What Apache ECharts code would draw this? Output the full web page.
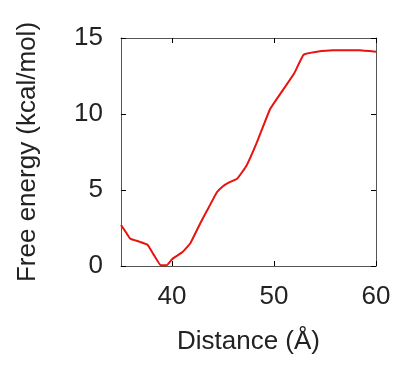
<!DOCTYPE html>
<html>
<head>
<meta charset="utf-8">
<script src="https://cdn.jsdelivr.net/npm/echarts@6/dist/echarts.min.js"></script>
<style>html,body{margin:0;padding:0;background:#fff;}#c{width:402px;height:365px;}</style>
</head>
<body>
<div id="c"></div>
<script>
const distance = [35, 35.5, 35.9, 36.8, 37.6, 38.2, 38.9, 39.5, 40.0, 41.0, 41.8, 42.8, 43.6, 44.4, 45.0, 45.6, 46.4, 47.3, 48.3, 49.6, 50.9, 52.0, 52.9, 54.2, 55.8, 58.4, 60];
const freeEnergy = [2.7, 2.2, 1.8, 1.6, 1.4, 0.75, 0.05, 0.05, 0.45, 0.9, 1.5, 2.85, 3.85, 4.85, 5.25, 5.5, 5.75, 6.6, 8.1, 10.3, 11.6, 12.7, 13.9, 14.1, 14.2, 14.2, 14.1];
const xTicks = [40, 50, 60];
const yTicks = [0, 5, 10, 15];

const font = 'Liberation Sans';
const axisColor = '#555';
const textColor = '#222';
const chart = echarts.init(document.getElementById('c'), null, {renderer: 'canvas'});
const baseX = {
  type: 'value', min: 35, max: 60,
  axisLine: {show: true, onZero: false, lineStyle: {color: axisColor, width: 1}},
  axisTick: {show: true, inside: true, length: 5, customValues: xTicks, lineStyle: {color: '#000'}},
  splitLine: {show: false}
};
const baseY = {
  type: 'value', min: 0, max: 15, interval: 5,
  axisLine: {show: true, onZero: false, lineStyle: {color: axisColor, width: 1}},
  axisTick: {show: true, inside: true, length: 5, customValues: yTicks, lineStyle: {color: '#000'}},
  splitLine: {show: false}
};
chart.setOption({
  animation: false,
  grid: {left: 121, right: 26, top: 38, bottom: 99, containLabel: false},
  xAxis: [
    Object.assign({}, baseX, {
      position: 'bottom',
      name: 'Distance (Å)', nameLocation: 'middle', nameGap: 63,
      nameTextStyle: {fontFamily: font, fontSize: 26, color: textColor},
      axisLabel: {show: true, customValues: xTicks, margin: 18, fontFamily: font, fontSize: 26, color: textColor}
    }),
    Object.assign({}, baseX, {position: 'top', axisLabel: {show: false}})
  ],
  yAxis: [
    Object.assign({}, baseY, {
      position: 'left',
      name: 'Free energy (kcal/mol)', nameLocation: 'middle', nameGap: 80,
      nameTextStyle: {fontFamily: font, fontSize: 26, color: textColor},
      axisLabel: {show: true, customValues: yTicks, margin: 18, fontFamily: font, fontSize: 26, color: textColor}
    }),
    Object.assign({}, baseY, {position: 'right', axisLabel: {show: false}})
  ],
  series: [{
    type: 'line',
    data: distance.map((d, i) => [d, freeEnergy[i]]),
    showSymbol: false,
    smooth: 0.1,
    lineStyle: {color: '#e8130f', width: 2},
    clip: true
  }]
});
</script>
</body>
</html>
